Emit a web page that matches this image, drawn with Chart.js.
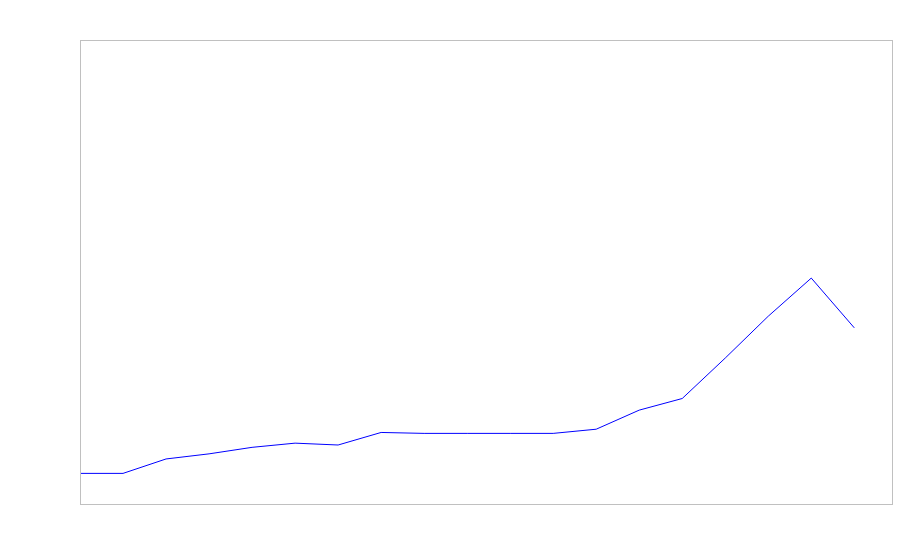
<!DOCTYPE html>
<html>
<head>
<meta charset="utf-8">
<script src="https://cdn.jsdelivr.net/npm/chart.js@4"></script>
<style>
  html, body { margin: 0; padding: 0; background: #fff; }
  canvas { display: block; }
</style>
</head>
<body>
<canvas id="chart" width="900" height="560"></canvas>
<script>
// x positions (step index) and values
const xValues = [0, 1, 2, 3, 4, 5, 6, 7, 8, 9, 10, 11, 12, 13, 14, 15, 16, 17, 18];
const yValues = [6.8, 6.8, 9.9, 11.0, 12.4, 13.3, 12.9, 15.6, 15.4, 15.4, 15.4, 15.4, 16.3, 20.4, 22.9, 31.6, 40.6, 48.8, 38.1];
const xMax = 18.9;
const yMin = 0;
const yMax = 100;

// grey frame round the plot area
const framePlugin = {
  id: 'frame',
  afterDraw(chart) {
    const a = chart.chartArea;
    const ctx = chart.ctx;
    ctx.save();
    ctx.strokeStyle = '#c0c0c0';
    ctx.lineWidth = 1;
    ctx.strokeRect(a.left + 0.5, a.top + 0.5, a.right - a.left - 1, a.bottom - a.top - 1);
    ctx.restore();
  }
};

const ctx = document.getElementById('chart').getContext('2d');
new Chart(ctx, {
  type: 'line',
  data: {
    datasets: [{
      data: xValues.map((x, i) => ({ x: x, y: yValues[i] })),
      borderColor: '#0000ff',
      borderWidth: 1,
      pointRadius: 0,
      tension: 0,
      fill: false
    }]
  },
  options: {
    responsive: false,
    animation: false,
    layout: { padding: { left: 80, top: 40, right: 7, bottom: 55 } },
    scales: {
      x: { type: 'linear', min: 0, max: xMax, display: false },
      y: { min: yMin, max: yMax, display: false }
    },
    plugins: {
      legend: { display: false },
      tooltip: { enabled: false }
    }
  },
  plugins: [framePlugin]
});
</script>
</body>
</html>
